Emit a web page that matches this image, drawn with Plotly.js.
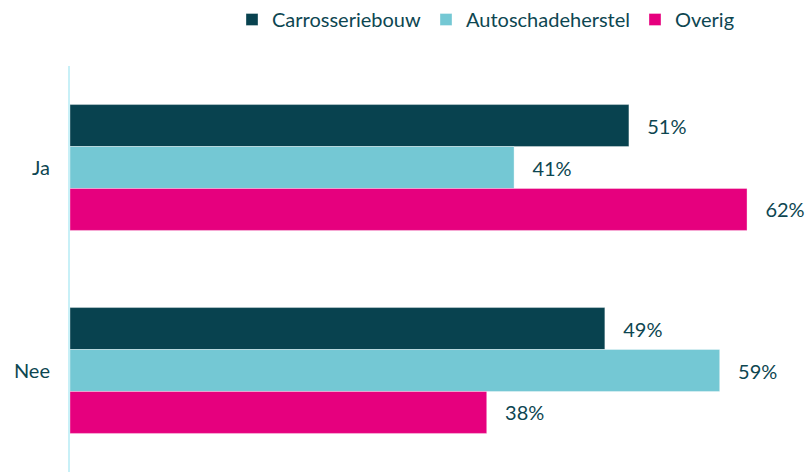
<!DOCTYPE html>
<html>
<head>
<meta charset="utf-8">
<script src="https://cdn.plot.ly/plotly-3.0.1.min.js"></script>
<style>
  html, body { margin: 0; padding: 0; background: #fff; }
  #chart { width: 805px; height: 472px; }
</style>
</head>
<body>
<div id="chart"></div>
<script>
const categories = ["Ja", "Nee"];
const seriesNames = ["Carrosseriebouw", "Autoschadeherstel", "Overig"];
// unrounded shares; labels show them rounded
const carrosseriebouw = [51.1, 48.9];
const autoschadeherstel = [40.6, 59.4];
const overig = [61.9, 38.1];

const colors = ["#08424f", "#74c8d4", "#e6007e"];
const textColor = "#0d4651";

const values = [carrosseriebouw, autoschadeherstel, overig];

const traces = values.map((vals, i) => ({
  type: "bar",
  orientation: "h",
  name: seriesNames[i],
  y: categories,
  x: vals,
  marker: { color: colors[i], line: { color: "rgba(255,255,255,0.35)", width: 1 } },
  texttemplate: "\u00a0\u00a0\u00a0%{x:.0f}%",
  textposition: "outside",
  cliponaxis: false,
  textfont: { color: textColor, size: 20 },
  hoverinfo: "skip"
}));

const layout = {
  width: 805,
  height: 472,
  margin: { t: 66, r: 0, b: 0, l: 70 },
  paper_bgcolor: "#fff",
  plot_bgcolor: "#fff",
  font: { family: "Lato, 'Open Sans', sans-serif", color: textColor, size: 20 },
  barmode: "group",
  bargap: 0.38,
  bargroupgap: 0,
  showlegend: true,
  legend: {
    orientation: "h",
    x: 0.566, xanchor: "center",
    y: 1, yref: "container", yanchor: "top",
    font: { size: 20, color: textColor },
    traceorder: "normal"
  },
  xaxis: {
    range: [0, 67.2],
    showgrid: false,
    zeroline: false,
    showticklabels: false,
    showline: false
  },
  yaxis: {
    type: "category",
    autorange: "reversed",
    showline: true,
    linecolor: "#c8f0f7",
    linewidth: 2,
    showgrid: false,
    zeroline: false,
    ticks: "",
    ticklabelstandoff: 14,
    tickfont: { size: 20, color: textColor }
  }
};

Plotly.newPlot("chart", traces, layout, { displayModeBar: false, staticPlot: true });
</script>
</body>
</html>
